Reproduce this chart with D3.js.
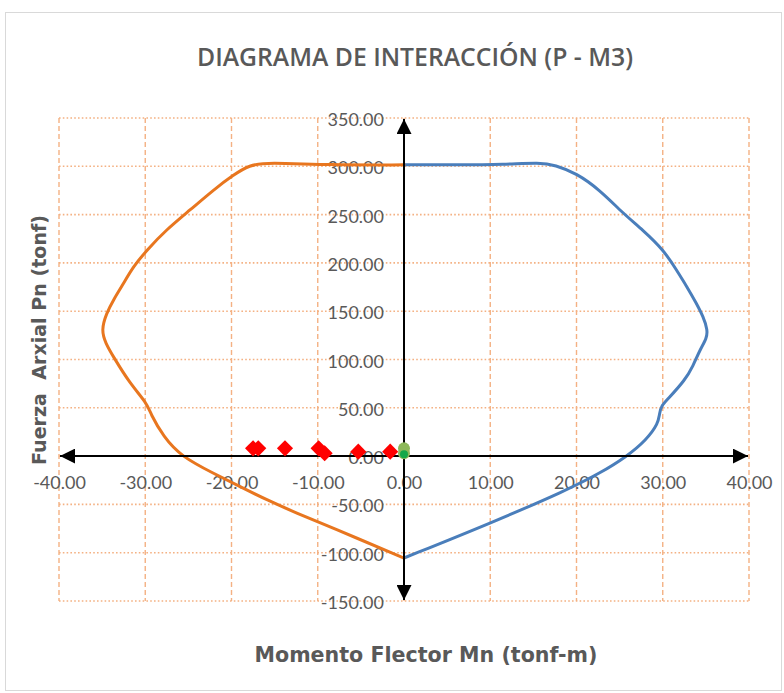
<!DOCTYPE html>
<html>
<head>
<meta charset="utf-8">
<script src="https://cdn.jsdelivr.net/npm/d3@7"></script>
<style>
  body { margin: 0; background: #fff; }
</style>
</head>
<body>
<div id="chart"></div>
<script>
// Ticks de los ejes
const xTicks = [-40, -30, -20, -10, 0, 10, 20, 30, 40];
const yTicks = [-150, -100, -50, 0, 50, 100, 150, 200, 250, 300, 350];

// Curva positiva (azul): momento, axial
const mPos = [0, 6, 11.7, 15.8, 17.5, 20.0, 22.7, 25.4, 27.7, 30.1, 31.6, 32.8, 33.9, 34.7, 35.2, 35.1, 34.3, 33.5, 32.6, 30.5, 29.9, 29.6, 29.5, 28.1, 25.8, 22.7, 18.9, 10.0, 0];
const pPos = [301.5, 301.5, 302, 304, 301.3, 292.8, 275.5, 251.3, 234, 213.4, 192.6, 175.4, 158.2, 144.3, 130.5, 122, 109.8, 93, 78.8, 58.1, 52.9, 44, 34, 16.7, -0.6, -17.8, -35.1, -69.6, -105.5];

// Curva negativa (naranja)
const mNeg = [0, -8.6, -15.9, -17.9, -19.8, -22.1, -24.8, -27.6, -29.8, -31.4, -32.5, -33.7, -34.5, -35.1, -34.6, -33.7, -31.8, -29.8, -29.4, -27.9, -25.8, -22.1, -19.0, -15.9, -12.4, -8.6, 0];
const pNeg = [301.5, 301.3, 304, 301.3, 291, 275.5, 254.8, 234, 213.4, 196, 178.9, 161.6, 147.8, 130.5, 116.8, 102.9, 75.4, 54.7, 44, 20.1, -0.6, -17.8, -31.7, -45.4, -59.2, -73.1, -105.5];

// Cargas actuantes (rombos rojos)
const mCarga = [-17.5, -16.9, -13.8, -9.9, -9.2, -5.3, -1.6];
const pCarga = [8, 8, 8, 8, 3, 4.6, 4.6];

// Puntos verdes
const mVerdeClaro = [0, 0];
const pVerdeClaro = [8, 3];
const mVerde = [0];
const pVerde = [2];

const W = 784, H = 693;

const svg = d3.select("#chart")
  .append("svg")
    .attr("width", W)
    .attr("height", H);

// Marco del gráfico
svg.append("rect")
  .attr("x", 5.5).attr("y", 12.5)
  .attr("width", 776).attr("height", 678)
  .attr("fill", "#fff")
  .attr("stroke", "#d9d9d9");

// Escalas
const x = d3.scaleLinear().domain([-40, 40]).range([59, 749]);
const y = d3.scaleLinear().domain([-150, 350]).range([601, 118]);

// Título
svg.append("text")
  .attr("x", 415).attr("y", 66)
  .attr("text-anchor", "middle")
  .attr("textLength", 436)
  .attr("lengthAdjust", "spacingAndGlyphs")
  .style("font-family", "'Open Sans', sans-serif")
  .style("font-weight", 600)
  .style("font-size", "25px")
  .style("fill", "#595959")
  .text("DIAGRAMA DE INTERACCIÓN (P - M3)");

// Rejilla vertical (discontinua)
svg.append("g")
  .selectAll("line")
  .data(xTicks)
  .enter()
  .append("line")
    .attr("x1", d => x(d)).attr("x2", d => x(d))
    .attr("y1", y(350)).attr("y2", y(-150))
    .attr("stroke", "#F4B183")
    .attr("stroke-width", 1.4)
    .attr("stroke-dasharray", "5,3");

// Rejilla horizontal (punteada)
svg.append("g")
  .selectAll("line")
  .data(yTicks)
  .enter()
  .append("line")
    .attr("x1", x(-40)).attr("x2", x(40))
    .attr("y1", d => y(d)).attr("y2", d => y(d))
    .attr("stroke", "#F4B183")
    .attr("stroke-width", 1.6)
    .attr("stroke-dasharray", "1.6,2.2");

// Etiquetas de los ejes
const yAxis = svg.append("g")
  .attr("transform", `translate(${x(0)},0)`)
  .call(d3.axisLeft(y).tickValues(yTicks).tickSize(0).tickPadding(20)
    .tickFormat(d => d.toFixed(2)));
const xAxis = svg.append("g")
  .attr("transform", `translate(0,${y(0)})`)
  .call(d3.axisBottom(x).tickValues(xTicks).tickSize(0).tickPadding(20)
    .tickFormat(d => d.toFixed(2)));
[yAxis, xAxis].forEach(g => {
  g.select(".domain").remove();
  g.selectAll("text")
    .style("font-family", "Lato, sans-serif")
    .style("font-size", "18px")
    .style("fill", "#595959");
});
yAxis.selectAll("text").attr("dy", "0.42em");

// Curvas (suavizadas)
const line = d3.line()
  .x(d => x(d[0]))
  .y(d => y(d[1]))
  .curve(d3.curveBasis);

svg.append("path")
  .datum(d3.zip(mPos, pPos))
  .attr("d", line)
  .attr("fill", "none")
  .attr("stroke", "#4A7EBB")
  .attr("stroke-width", 3)
  .attr("stroke-linecap", "round")
  .attr("stroke-linejoin", "round");

svg.append("path")
  .datum(d3.zip(mNeg, pNeg))
  .attr("d", line)
  .attr("fill", "none")
  .attr("stroke", "#E8761F")
  .attr("stroke-width", 3)
  .attr("stroke-linecap", "round")
  .attr("stroke-linejoin", "round");

// Flechas de los ejes
const defs = svg.append("defs");
defs.append("marker")
  .attr("id", "flecha")
  .attr("viewBox", "0 0 10 10")
  .attr("refX", 10).attr("refY", 5)
  .attr("markerWidth", 15).attr("markerHeight", 15)
  .attr("markerUnits", "userSpaceOnUse")
  .attr("orient", "auto-start-reverse")
  .append("path")
    .attr("d", "M0,0 L10,5 L0,10 Z")
    .attr("fill", "#000");

svg.append("line")
  .attr("x1", x(-40) + 1).attr("x2", x(40) - 1)
  .attr("y1", y(0)).attr("y2", y(0))
  .attr("stroke", "#000").attr("stroke-width", 2)
  .attr("marker-start", "url(#flecha)")
  .attr("marker-end", "url(#flecha)");

svg.append("line")
  .attr("x1", x(0)).attr("x2", x(0))
  .attr("y1", y(350) + 1).attr("y2", y(-150) - 1)
  .attr("stroke", "#000").attr("stroke-width", 2)
  .attr("marker-start", "url(#flecha)")
  .attr("marker-end", "url(#flecha)");

// Puntos verdes
svg.selectAll("circle.claro")
  .data(d3.zip(mVerdeClaro, pVerdeClaro))
  .enter()
  .append("circle")
    .attr("class", "claro")
    .attr("cx", d => x(d[0]))
    .attr("cy", d => y(d[1]))
    .attr("r", 6)
    .attr("fill", "#8DB85A");

svg.selectAll("circle.oscuro")
  .data(d3.zip(mVerde, pVerde))
  .enter()
  .append("circle")
    .attr("class", "oscuro")
    .attr("cx", d => x(d[0]))
    .attr("cy", d => y(d[1]))
    .attr("r", 4)
    .attr("fill", "#12A84A");

// Rombos rojos (cargas)
const rombo = d3.symbol().type(d3.symbolSquare).size(130);
svg.selectAll("path.carga")
  .data(d3.zip(mCarga, pCarga))
  .enter()
  .append("path")
    .attr("class", "carga")
    .attr("d", rombo)
    .attr("transform", d => `translate(${x(d[0])},${y(d[1])}) rotate(45)`)
    .attr("fill", "#FF0000");

// Títulos de ejes
svg.append("text")
  .attr("x", 426).attr("y", 662)
  .attr("text-anchor", "middle")
  .attr("textLength", 343)
  .attr("lengthAdjust", "spacingAndGlyphs")
  .style("font-family", "'DejaVu Sans', sans-serif")
  .style("font-weight", "bold")
  .style("font-size", "21px")
  .style("fill", "#595959")
  .text("Momento Flector Mn (tonf-m)");

svg.append("text")
  .attr("transform", "translate(46,340) rotate(-90)")
  .attr("text-anchor", "middle")
  .attr("textLength", 250)
  .attr("lengthAdjust", "spacingAndGlyphs")
  .style("font-family", "'DejaVu Sans', sans-serif")
  .style("font-weight", "bold")
  .style("font-size", "19px")
  .style("fill", "#595959")
  .style("white-space", "pre")
  .text("Fuerza  Arxial Pn (tonf)");
</script>
</body>
</html>
